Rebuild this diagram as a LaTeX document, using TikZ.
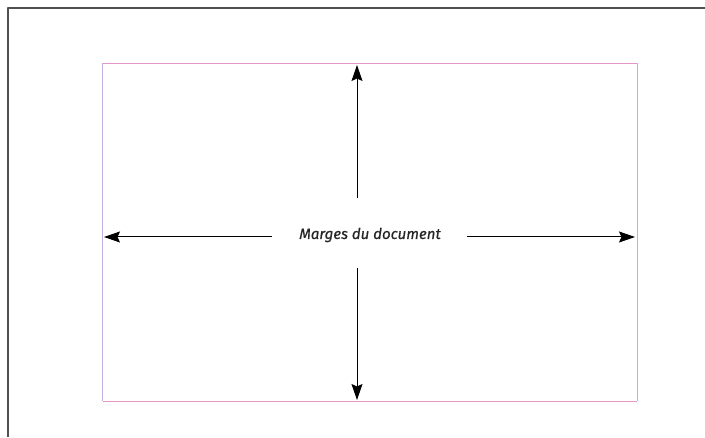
\documentclass[tikz,border=0pt]{standalone}
\usepackage{fontspec}
\setmainfont{Fira Sans}
\newfontfamily\margefont{Fira Sans}[FakeBold=0.6]
\usetikzlibrary{arrows.meta}
\definecolor{frame}{RGB}{80,80,80}
\definecolor{margepink}{RGB}{230,150,200}
\definecolor{margelav}{RGB}{195,175,220}
\begin{document}
\begin{tikzpicture}[x=1pt,y=1pt,line join=round,>={Stealth[length=16pt,width=11pt,inset=2.5pt]}]
\useasboundingbox[fill=white] (0,0) rectangle (705,437);
% page edge
\draw[frame,line width=1.2pt] (8,0)--(8,429)--(705,429);
% margins
\draw[margepink,line width=0.9pt] (102.5,374)--(637,374) (102.5,36)--(637,36);
\draw[margelav,line width=0.9pt] (102.5,36)--(102.5,374) (637,36)--(637,374);
\node[text=black!85] (marges) at (370,202) {\fontsize{15}{17}\margefont\itshape Marges du document};
\coordinate (haut0) at (357,239); \coordinate (haut) at (357,372);
\coordinate (bas0) at (357,169); \coordinate (bas) at (357,37);
\coordinate (gauche0) at (272,200); \coordinate (gauche) at (104,200);
\coordinate (droite0) at (467,200); \coordinate (droite) at (635,200);
\draw[->,line width=1pt] (haut0)--(haut);
\draw[->,line width=1pt] (bas0)--(bas);
\draw[->,line width=1pt] (gauche0)--(gauche);
\draw[->,line width=1pt] (droite0)--(droite);
\end{tikzpicture}
\end{document}
